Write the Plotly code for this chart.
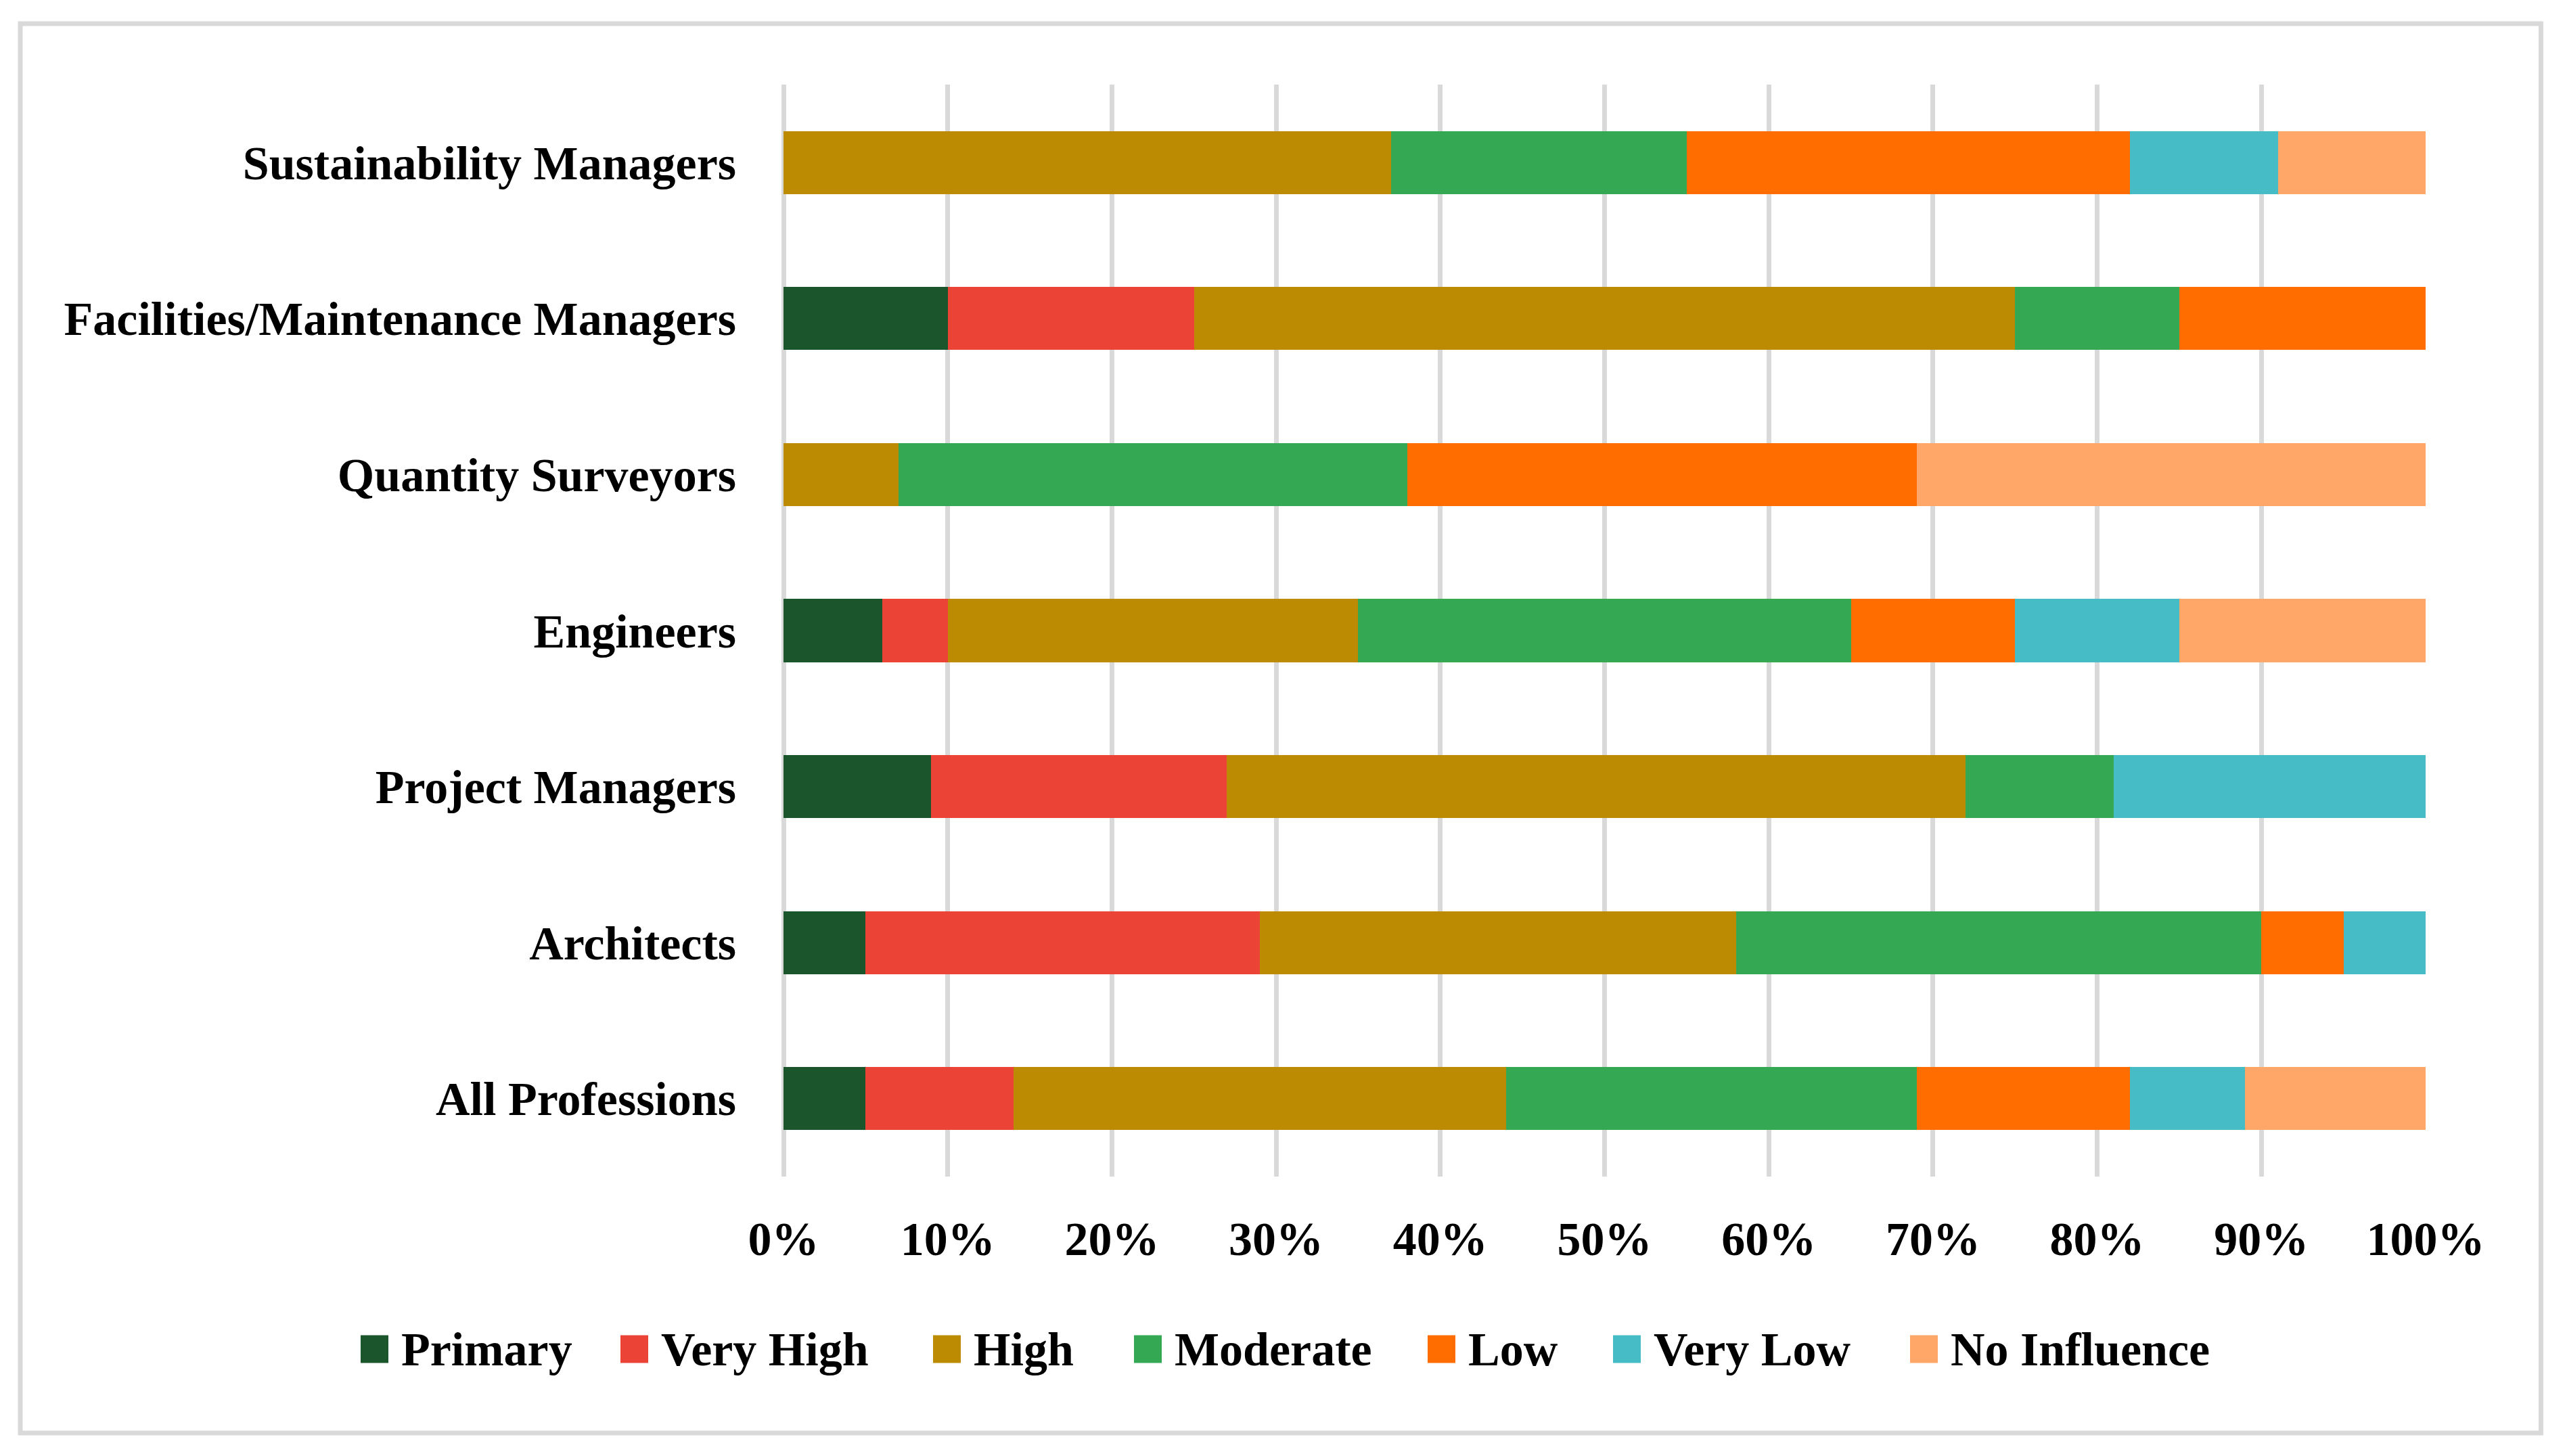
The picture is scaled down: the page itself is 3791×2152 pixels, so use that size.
import plotly.graph_objects as go

categories = ["Sustainability Managers", "Facilities/Maintenance Managers", "Quantity Surveyors",
              "Engineers", "Project Managers", "Architects", "All Professions"]
series_names = ["Primary", "Very High", "High", "Moderate", "Low", "Very Low", "No Influence"]
primary      = [0, 10, 0, 6, 9, 5, 5]
very_high    = [0, 15, 0, 4, 18, 24, 9]
high         = [37, 50, 7, 25, 45, 29, 30]
moderate     = [18, 10, 31, 30, 9, 32, 25]
low          = [27, 15, 31, 10, 0, 5, 13]
very_low     = [9, 0, 0, 10, 19, 5, 7]
no_influence = [9, 0, 31, 15, 0, 0, 11]
tick_values = [0, 10, 20, 30, 40, 50, 60, 70, 80, 90, 100]
tick_labels = ["0%", "10%", "20%", "30%", "40%", "50%", "60%", "70%", "80%", "90%", "100%"]

series_values = [primary, very_high, high, moderate, low, very_low, no_influence]
colors = ["#1B552B", "#EC4337", "#BC8B02", "#34A853", "#FF6D01", "#46BDC6", "#FFA768"]

W, H = 3791, 2152
L, R, T, B = 1158, 206, 125, 413
PW, PH = W - L - R, H - T - B
FONT = "Liberation Serif"
FS = 70


def xp(px):
    return (px - L) / PW


def yp(py):
    return (H - B - py) / PH


fig = go.Figure()
for name, vals, col in zip(series_names, series_values, colors):
    fig.add_trace(go.Bar(y=categories, x=vals, name=name, orientation="h",
                         marker=dict(color=col, line=dict(width=0)), showlegend=False))

fig.update_layout(
    barmode="stack",
    bargap=0.596,
    width=W, height=H,
    margin=dict(l=L, r=R, t=T, b=B),
    paper_bgcolor="white", plot_bgcolor="white",
    font=dict(family=FONT, size=FS, color="black", weight="bold"),
    xaxis=dict(range=[0, 100], tickvals=tick_values, ticktext=tick_labels,
               showgrid=True, gridcolor="#D9D9D9", gridwidth=7,
               zeroline=True, zerolinecolor="#D9D9D9", zerolinewidth=7,
               showline=False, ticks="", ticklabelstandoff=45,
               tickfont=dict(family=FONT, size=FS, color="black", weight="bold"),
               fixedrange=True),
    yaxis=dict(categoryorder="array", categoryarray=categories[::-1],
               showgrid=False, zeroline=False, showline=False, ticks="",
               ticklabelstandoff=69,
               tickfont=dict(family=FONT, size=FS, color="black", weight="bold"),
               fixedrange=True),
)

# outer border
fig.add_shape(type="rect", xref="paper", yref="paper",
              x0=xp(30), x1=xp(3755.5), y0=yp(2118), y1=yp(35),
              line=dict(color="#D9D9D9", width=7), fillcolor="rgba(0,0,0,0)", layer="below")

# legend (manual, large swatches like the reference)
legend_x = [533, 917, 1379, 1676, 2110, 2384, 2823]
sw, sh, cy = 41, 41, 1994
for name, col, x0 in zip(series_names, colors, legend_x):
    fig.add_shape(type="rect", xref="paper", yref="paper",
                  x0=xp(x0), x1=xp(x0 + sw), y0=yp(cy + sh / 2), y1=yp(cy - sh / 2),
                  line=dict(width=0), fillcolor=col)
    fig.add_annotation(xref="paper", yref="paper", x=xp(x0 + sw + 17), y=yp(cy),
                       text=name, showarrow=False, xanchor="left", yanchor="middle",
                       font=dict(family=FONT, size=FS, color="black", weight="bold"))

fig.write_html("out.html", config={"displayModeBar": False},
               post_script="document.body.style.margin='0';document.body.style.overflow='hidden';")
